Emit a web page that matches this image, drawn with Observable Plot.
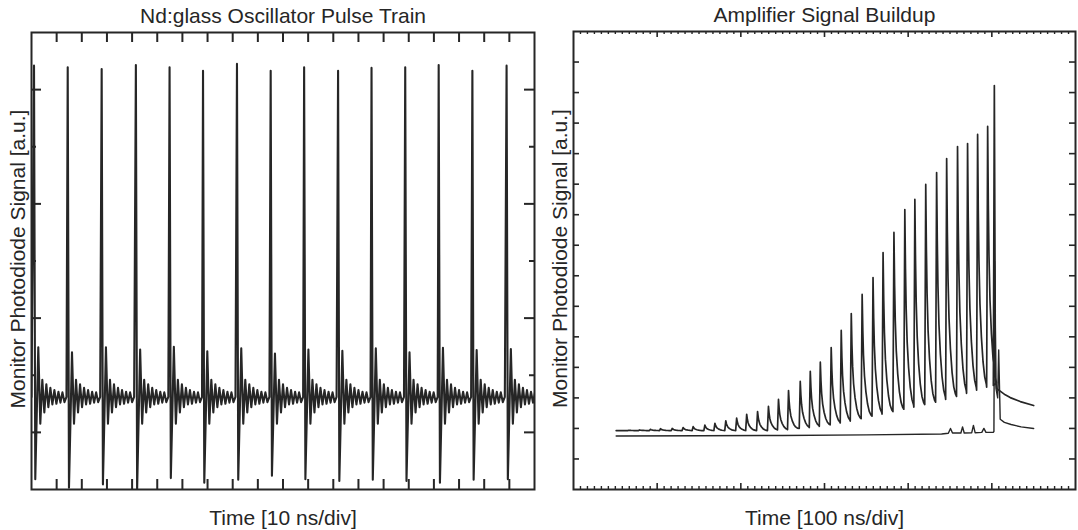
<!DOCTYPE html>
<html>
<head>
<meta charset="utf-8">
<script src="https://cdn.jsdelivr.net/npm/d3@7"></script>
<script src="https://cdn.jsdelivr.net/npm/@observablehq/plot@0.6"></script>
<style>
  html, body { margin: 0; padding: 0; background: #fff; }
  #wrap { width: 1078px; height: 530px; display: flex; flex-direction: row; }
  #wrap svg { display: block; }
</style>
</head>
<body>
<div id="wrap"></div>
<script>
// ---------------- Text ----------------
const titleL = "Nd:glass Oscillator Pulse Train";
const titleR = "Amplifier Signal Buildup";
const xLabelL = "Time [10 ns/div]";
const xLabelR = "Time [100 ns/div]";
const yLabel = "Monitor Photodiode Signal [a.u.]";

// ---------------- Left panel data (x in ns, 10 ns/div; y in divisions) ----------------
const pulseTimesL = [1.0, 14.4, 27.9, 41.5, 54.9, 68.2, 81.7, 95.1, 108.4, 121.9, 135.2, 148.6, 161.9, 175.3, 188.9];
const pulsePeaksL = [7.42, 7.39, 7.36, 7.43, 7.39, 7.33, 7.45, 7.33, 7.39, 7.33, 7.38, 7.39, 7.43, 7.33, 7.42];
const pulseDipsL  = [0.18, 0.03, 0.09, 0.00, 0.20, 0.12, 0.17, 0.24, 0.18, 0.15, 0.17, 0.15, 0.12, 0.17, 0.18];
const afterPeaksL = [2.49, 2.40, 2.49, 2.45, 2.50, 2.42, 2.47, 2.38, 2.45, 2.43, 2.47, 2.40, 2.48, 2.44, 2.46];
const dipOffsetL = 0.5;
const afterOffsetL = 1.7;
// ringing after each pulse (offset from pulse in ns, level in divisions)
const ringOffsetsL = [2.5, 3.3, 4.1, 4.9, 5.7, 6.5, 7.3, 8.1, 8.9, 9.7, 10.5, 11.3, 12.1, 12.9];
const ringValuesL  = [1.15, 1.92, 1.35, 1.84, 1.44, 1.78, 1.49, 1.74, 1.50, 1.71, 1.52, 1.70, 1.53, 1.62];
const xTicksL = [10, 20, 30, 40, 50, 60, 70, 80, 90, 100, 110, 120, 130, 140, 150, 160, 170, 180, 190];
const yMajorL = [1, 3, 5, 7];
const yMinorL = [2, 4, 6];

// ---------------- Right panel data (x in ns, 100 ns/div; y in divisions) ----------------
const startR = 51;
const pulseTimesR = [66, 79, 92, 104, 118, 131, 143, 157, 169, 182, 195, 207, 220, 233, 245, 257, 271, 283, 295,
                     308, 320, 332, 345, 358, 370, 383, 396, 408, 421, 434, 446, 459, 471, 483, 495];
const pulsePeaksR = [1.94, 1.95, 1.97, 1.99, 2.00, 2.03, 2.06, 2.11, 2.17, 2.25, 2.34, 2.46, 2.55, 2.72, 2.95, 3.24, 3.54, 3.87, 4.17,
                     4.65, 5.21, 5.76, 6.39, 6.94, 7.76, 8.42, 9.17, 9.50, 9.99, 10.38, 10.84, 11.23, 11.33, 11.63, 11.89];
const valleysR    = [1.93, 1.93, 1.93, 1.93, 1.93, 1.93, 1.93, 1.93, 1.93, 1.93, 1.93, 1.93, 1.93, 1.93, 1.95, 1.96, 2.00, 2.03, 2.07,
                     2.12, 2.18, 2.24, 2.32, 2.40, 2.47, 2.55, 2.63, 2.70, 2.78, 2.86, 2.95, 3.05, 3.15, 3.25, 3.35];
const riseR = 1.2;
const decayOffsetsR = [0.8, 1.6, 2.8, 4.5, 6.5, 8.5, 10.5];
const decayFracR    = [0.70, 0.50, 0.33, 0.20, 0.10, 0.04, 0.01];
const finalTimeR = 503, finalPeakR = 13.23, finalValleyR = 3.41;
const tailA_t = [504.3, 506, 510, 516, 522, 534, 550];
const tailA_v = [3.60, 3.30, 3.22, 3.10, 3.01, 2.88, 2.75];
const traceB_t = [51, 150, 250, 350, 440, 448, 450.6, 453, 463, 465, 467, 476, 478, 480, 488, 490.5, 493, 501.5, 502.5, 503.3, 505, 507, 508.2, 510, 515, 523, 535, 550];
const traceB_v = [1.75, 1.76, 1.77, 1.79, 1.82, 1.84, 2.00, 1.85, 1.85, 2.05, 1.85, 1.86, 2.10, 1.86, 1.87, 2.00, 1.87, 1.87, 1.90, 7.47, 3.30, 3.00, 4.57, 2.30, 2.20, 2.13, 2.05, 2.00];
const xMajorR = [100, 200, 300, 400, 500];
const xMinorR = d3.range(0, 600, 100 / 12).filter(v => v > 0 && v % 100 > 0.01 && v % 100 < 99.99);
const yTicksR = [1, 2, 3, 4, 5, 6, 7, 8, 9, 10, 11, 12, 13, 14];

// ---------------- Build series ----------------
const waveL = [{t: 0, v: ringValuesL[ringValuesL.length - 1]}];
pulseTimesL.forEach((t0, i) => {
  waveL.push({t: t0, v: pulsePeaksL[i]});
  waveL.push({t: t0 + dipOffsetL, v: pulseDipsL[i]});
  waveL.push({t: t0 + afterOffsetL, v: afterPeaksL[i]});
  ringOffsetsL.forEach((o, j) => waveL.push({t: t0 + o, v: ringValuesL[j]}));
});

const traceA = [{t: startR, v: valleysR[0]}];
pulseTimesR.forEach((t0, i) => {
  const v0 = valleysR[i], p = pulsePeaksR[i];
  const v1 = i + 1 < valleysR.length ? valleysR[i + 1] : finalValleyR;
  traceA.push({t: t0 - riseR, v: v0});
  traceA.push({t: t0, v: p});
  decayOffsetsR.forEach((o, j) => traceA.push({t: t0 + o, v: v1 + (p - v1) * decayFracR[j]}));
});
traceA.push({t: finalTimeR - riseR, v: finalValleyR});
traceA.push({t: finalTimeR, v: finalPeakR});
tailA_t.forEach((t, i) => traceA.push({t, v: tailA_v[i]}));
const traceB = traceB_t.map((t, i) => ({t, v: traceB_v[i]}));

// ---------------- Styling ----------------
const ink = "#262626";
const font = '"Liberation Sans", Arial, Helvetica, sans-serif';
const fs = 21;

function labels(title, xLabel) {
  return [
    Plot.text([title], {frameAnchor: "top", dy: -10, lineAnchor: "bottom", fontSize: fs, fill: ink}),
    Plot.text([xLabel], {frameAnchor: "bottom", dy: 35, lineAnchor: "bottom", fontSize: fs, fill: ink}),
    Plot.text([yLabel], {frameAnchor: "left", rotate: -90, dx: -7, dy: -2, textAnchor: "middle", lineAnchor: "bottom", fontSize: fs, fill: ink})
  ];
}

// Left panel
const L = {w: 541, ml: 31, mr: 7, mt: 32, mb: 41};
const pwL = L.w - L.ml - L.mr, phL = 530 - L.mt - L.mb;
const left = Plot.plot({
  width: L.w, height: 530,
  marginLeft: L.ml, marginRight: L.mr, marginTop: L.mt, marginBottom: L.mb,
  x: {domain: [0, 200], axis: null},
  y: {domain: [0, 8], axis: null},
  style: {fontFamily: font, background: "#fff", color: ink},
  marks: [
    Plot.line(waveL, {x: "t", y: "v", stroke: ink, strokeWidth: 2.1, clip: true}),
    Plot.tickX(xTicksL, {x: d => d, insetTop: phL - 10, stroke: ink, strokeWidth: 2}),
    Plot.tickX(xTicksL, {x: d => d, insetBottom: phL - 10, stroke: ink, strokeWidth: 2}),
    Plot.tickY(yMajorL, {y: d => d, insetRight: pwL - 10, stroke: ink, strokeWidth: 2}),
    Plot.tickY(yMajorL, {y: d => d, insetLeft: pwL - 10, stroke: ink, strokeWidth: 2}),
    Plot.tickY(yMinorL, {y: d => d, insetRight: pwL - 5, stroke: ink, strokeWidth: 2}),
    Plot.tickY(yMinorL, {y: d => d, insetLeft: pwL - 5, stroke: ink, strokeWidth: 2}),
    Plot.frame({stroke: ink, strokeWidth: 2}),
    ...labels(titleL, xLabelL)
  ]
});

// Right panel
const R = {w: 537, ml: 32, mr: 3, mt: 31, mb: 41};
const pwR = R.w - R.ml - R.mr, phR = 530 - R.mt - R.mb;
const right = Plot.plot({
  width: R.w, height: 530,
  marginLeft: R.ml, marginRight: R.mr, marginTop: R.mt, marginBottom: R.mb,
  x: {domain: [0, 600], axis: null},
  y: {domain: [0, 15], axis: null},
  style: {fontFamily: font, background: "#fff", color: ink},
  marks: [
    Plot.line(traceB, {x: "t", y: "v", stroke: ink, strokeWidth: 1.4}),
    Plot.line(traceA, {x: "t", y: "v", stroke: ink, strokeWidth: 1.7}),
    Plot.tickX(xMajorR, {x: d => d, insetTop: phR - 6, stroke: ink, strokeWidth: 1.6}),
    Plot.tickX(xMajorR, {x: d => d, insetBottom: phR - 6, stroke: ink, strokeWidth: 1.6}),
    Plot.tickX(xMinorR, {x: d => d, insetTop: phR - 3, stroke: ink, strokeWidth: 1.4}),
    Plot.tickX(xMinorR, {x: d => d, insetBottom: phR - 3, stroke: ink, strokeWidth: 1.4}),
    Plot.tickY(yTicksR, {y: d => d, insetRight: pwR - 6, stroke: ink, strokeWidth: 1.6}),
    Plot.tickY(yTicksR, {y: d => d, insetLeft: pwR - 6, stroke: ink, strokeWidth: 1.6}),
    Plot.frame({stroke: ink, strokeWidth: 2}),
    ...labels(titleR, xLabelR)
  ]
});

const wrap = document.getElementById("wrap");
wrap.appendChild(left);
wrap.appendChild(right);
</script>
</body>
</html>
